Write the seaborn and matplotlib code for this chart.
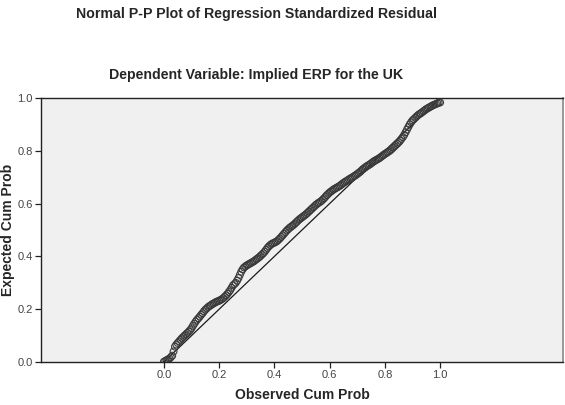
import numpy as np
import pandas as pd
import matplotlib
matplotlib.use("Agg")
import matplotlib.pyplot as plt
import seaborn as sns

# Observed cumulative probability (rank based) and expected cumulative probability
observed_cum_prob = [
    0.000, 0.005, 0.010, 0.015, 0.020, 0.025, 0.030, 0.035, 0.040, 0.045,
    0.050, 0.055, 0.060, 0.065, 0.070, 0.075, 0.080, 0.085, 0.090, 0.095,
    0.100, 0.105, 0.110, 0.115, 0.120, 0.125, 0.130, 0.135, 0.140, 0.145,
    0.150, 0.155, 0.160, 0.165, 0.170, 0.175, 0.180, 0.185, 0.190, 0.195,
    0.200, 0.205, 0.210, 0.215, 0.220, 0.225, 0.230, 0.235, 0.240, 0.245,
    0.250, 0.255, 0.260, 0.265, 0.270, 0.275, 0.280, 0.285, 0.290, 0.295,
    0.300, 0.305, 0.310, 0.315, 0.320, 0.325, 0.330, 0.335, 0.340, 0.345,
    0.350, 0.355, 0.360, 0.365, 0.370, 0.375, 0.380, 0.385, 0.390, 0.395,
    0.400, 0.405, 0.410, 0.415, 0.420, 0.425, 0.430, 0.435, 0.440, 0.445,
    0.450, 0.455, 0.460, 0.465, 0.470, 0.475, 0.480, 0.485, 0.490, 0.495,
    0.500, 0.505, 0.510, 0.515, 0.520, 0.525, 0.530, 0.535, 0.540, 0.545,
    0.550, 0.555, 0.560, 0.565, 0.570, 0.575, 0.580, 0.585, 0.590, 0.595,
    0.600, 0.605, 0.610, 0.615, 0.620, 0.625, 0.630, 0.635, 0.640, 0.645,
    0.650, 0.655, 0.660, 0.665, 0.670, 0.675, 0.680, 0.685, 0.690, 0.695,
    0.700, 0.705, 0.710, 0.715, 0.720, 0.725, 0.730, 0.735, 0.740, 0.745,
    0.750, 0.755, 0.760, 0.765, 0.770, 0.775, 0.780, 0.785, 0.790, 0.795,
    0.800, 0.805, 0.810, 0.815, 0.820, 0.825, 0.830, 0.835, 0.840, 0.845,
    0.850, 0.855, 0.860, 0.865, 0.870, 0.875, 0.880, 0.885, 0.890, 0.895,
    0.900, 0.905, 0.910, 0.915, 0.920, 0.925, 0.930, 0.935, 0.940, 0.945,
    0.950, 0.955, 0.960, 0.965, 0.970, 0.975, 0.980, 0.985, 0.990, 0.995,
    1.000,
]
expected_cum_prob = [
    0.001, 0.004, 0.007, 0.010, 0.013, 0.018, 0.024, 0.040, 0.058, 0.066,
    0.072, 0.078, 0.084, 0.090, 0.095, 0.100, 0.105, 0.110, 0.115, 0.121,
    0.128, 0.137, 0.145, 0.153, 0.160, 0.166, 0.172, 0.179, 0.185, 0.192,
    0.198, 0.203, 0.208, 0.212, 0.215, 0.219, 0.222, 0.225, 0.228, 0.230,
    0.232, 0.235, 0.238, 0.242, 0.247, 0.252, 0.258, 0.265, 0.272, 0.281,
    0.290, 0.295, 0.300, 0.308, 0.318, 0.330, 0.342, 0.351, 0.358, 0.362,
    0.366, 0.369, 0.372, 0.375, 0.378, 0.381, 0.385, 0.389, 0.393, 0.397,
    0.402, 0.407, 0.412, 0.418, 0.425, 0.432, 0.438, 0.443, 0.447, 0.450,
    0.452, 0.455, 0.458, 0.463, 0.468, 0.474, 0.480, 0.486, 0.492, 0.498,
    0.503, 0.508, 0.512, 0.516, 0.520, 0.525, 0.530, 0.535, 0.540, 0.544,
    0.548, 0.552, 0.556, 0.560, 0.565, 0.570, 0.575, 0.580, 0.585, 0.590,
    0.595, 0.599, 0.603, 0.606, 0.610, 0.615, 0.620, 0.626, 0.632, 0.637,
    0.642, 0.646, 0.650, 0.654, 0.657, 0.660, 0.663, 0.666, 0.670, 0.674,
    0.678, 0.682, 0.685, 0.688, 0.692, 0.695, 0.698, 0.701, 0.705, 0.708,
    0.712, 0.716, 0.720, 0.725, 0.730, 0.734, 0.738, 0.742, 0.745, 0.748,
    0.752, 0.756, 0.760, 0.763, 0.766, 0.769, 0.772, 0.776, 0.780, 0.784,
    0.788, 0.791, 0.795, 0.798, 0.802, 0.807, 0.812, 0.817, 0.822, 0.827,
    0.832, 0.838, 0.845, 0.852, 0.860, 0.870, 0.880, 0.890, 0.900, 0.908,
    0.915, 0.920, 0.925, 0.930, 0.935, 0.939, 0.942, 0.946, 0.950, 0.954,
    0.958, 0.961, 0.964, 0.967, 0.970, 0.973, 0.975, 0.977, 0.980, 0.982,
    0.983,
]
tick_values = [0.0, 0.2, 0.4, 0.6, 0.8, 1.0]
tick_labels = ["0.0", "0.2", "0.4", "0.6", "0.8", "1.0"]
reference_line = [0.0, 1.0]

df = pd.DataFrame({"observed": observed_cum_prob, "expected": expected_cum_prob})

sns.set_style("white")
plt.rcParams["font.family"] = ["Liberation Sans", "DejaVu Sans"]

fig = plt.figure(figsize=(5.65, 4.05), dpi=100)
ax = fig.add_axes([41 / 565, 43 / 405, 522 / 565, 264 / 405])
ax.set_facecolor("#f0f0f0")

# Diagonal of a perfectly normal residual distribution
sns.lineplot(x=reference_line, y=reference_line, ax=ax, color="#1a1a1a",
             linewidth=0.9, zorder=2)

sns.scatterplot(data=df, x="observed", y="expected", ax=ax,
                marker="o", s=24, facecolor="none", edgecolor="#3a3a3a",
                linewidth=0.8, zorder=3)

ax.set_xlim(-0.445, 1.445)
ax.set_ylim(0.0, 1.0)
ax.set_xticks(tick_values)
ax.set_xticklabels(tick_labels)
ax.set_yticks(tick_values)
ax.set_yticklabels(tick_labels)
ax.tick_params(axis="both", which="both", direction="out", length=4, width=0.9,
               color="#222222", labelsize=8, labelcolor="#444444",
               bottom=True, left=True, pad=2)

for side in ("left", "bottom", "top"):
    ax.spines[side].set_color("#222222")
    ax.spines[side].set_linewidth(1.0)
ax.spines["right"].set_color("#888888")
ax.spines["right"].set_linewidth(1.2)

ax.set_xlabel("Observed Cum Prob", fontsize=10, fontweight="bold")
ax.xaxis.set_label_coords(0.5, -26 / 264)
ax.set_ylabel("Expected Cum Prob", fontsize=10, fontweight="bold")
ax.yaxis.set_label_coords(-26 / 522, 0.5)

fig.text(256 / 565, 1 - 14 / 405, "Normal P-P Plot of Regression Standardized Residual",
         ha="center", va="center", fontsize=10.2, fontweight="bold")
fig.text(256 / 565, 1 - 75 / 405, "Dependent Variable: Implied ERP for the UK",
         ha="center", va="center", fontsize=10.2, fontweight="bold")

fig.savefig("out.png", dpi=100)
